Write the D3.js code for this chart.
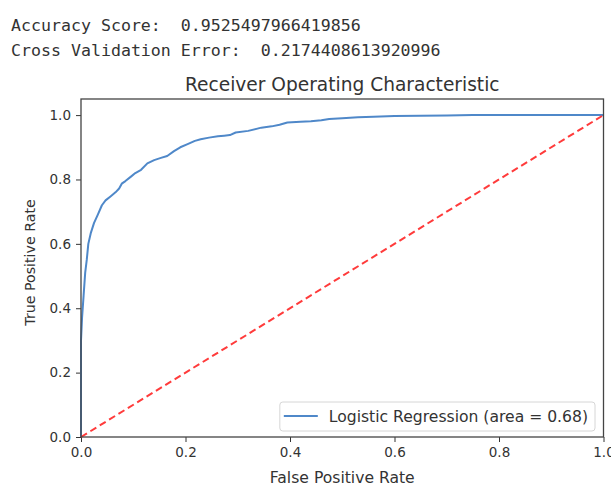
<!DOCTYPE html>
<html>
<head>
<meta charset="utf-8">
<script src="https://cdn.jsdelivr.net/npm/d3@7"></script>
<style>
  body { margin: 0; background: #fff; }
  svg text { font-family: 'DejaVu Sans', sans-serif; fill: #333; }
  .mono { font-family: 'DejaVu Sans Mono', monospace !important; font-size: 16.6px; white-space: pre; }
  .tick text { font-size: 13.5px; }
  .domain { display: none; }
</style>
</head>
<body>
<svg id="chart"></svg>
<script>
// printed output above the plot
const outputLines = [
  'Accuracy Score:  0.9525497966419856',
  'Cross Validation Error:  0.2174408613920996',
];

// roc curve
const fpr = [0, 0, 0.002, 0.005, 0.008, 0.011, 0.014, 0.019, 0.025, 0.032,
  0.04, 0.047, 0.057, 0.066, 0.073, 0.078, 0.085, 0.095, 0.104, 0.115,
  0.127, 0.14, 0.153, 0.165, 0.178, 0.19, 0.204, 0.218, 0.229, 0.245,
  0.262, 0.274, 0.285, 0.296, 0.32, 0.345, 0.365, 0.38, 0.395, 0.42,
  0.44, 0.46, 0.475, 0.5, 0.53, 0.56, 0.6, 0.65, 0.7, 0.75, 0.85, 1.0];
const tpr = [0, 0.3, 0.37, 0.44, 0.51, 0.55, 0.6, 0.635, 0.665, 0.69,
  0.72, 0.735, 0.748, 0.76, 0.772, 0.787, 0.795, 0.808, 0.82, 0.83,
  0.85, 0.86, 0.867, 0.873, 0.888, 0.9, 0.91, 0.92, 0.925, 0.93,
  0.934, 0.936, 0.938, 0.946, 0.951, 0.961, 0.965, 0.97, 0.977, 0.979,
  0.981, 0.984, 0.988, 0.99, 0.993, 0.995, 0.997, 0.998, 0.999, 1.0, 1.0, 1.0];

// chance diagonal
const diagX = [0, 1];
const diagY = [0, 1];

const xTicks = [0, 0.2, 0.4, 0.6, 0.8, 1.0];
const yTicks = [0, 0.2, 0.4, 0.6, 0.8, 1.0];

const legendLabel = 'Logistic Regression (area = 0.68)';

const config = {
  width: 611,
  height: 487,
  plot: { left: 81, right: 603.5, top: 99, bottom: 437 },
};

const svg = d3.select('#chart').attr('width', config.width).attr('height', config.height);

// text output lines
svg.selectAll('.mono')
  .data(outputLines)
  .enter()
  .append('text')
  .attr('class', 'mono')
  .attr('xml:space', 'preserve')
  .attr('x', 11)
  .attr('y', (d, i) => 31 + i * 25)
  .text(d => d);

const x = d3.scaleLinear().domain([0, 1]).range([config.plot.left, config.plot.right]);
const y = d3.scaleLinear().domain([0, 1.05]).range([config.plot.bottom, config.plot.top]);

// axes
svg.append('g')
  .attr('transform', `translate(0,${config.plot.bottom})`)
  .call(d3.axisBottom(x).tickValues(xTicks).tickFormat(d3.format('.1f')).tickSize(5).tickPadding(5))
  .call(g => g.selectAll('.tick line').attr('stroke', '#333'));

svg.append('g')
  .attr('transform', `translate(${config.plot.left},0)`)
  .call(d3.axisLeft(y).tickValues(yTicks).tickFormat(d3.format('.1f')).tickSize(5).tickPadding(5))
  .call(g => g.selectAll('.tick line').attr('stroke', '#333'));

// lines
const line = d3.line().x(d => x(d[0])).y(d => y(d[1]));

svg.append('path')
  .datum(fpr.map((f, i) => [f, tpr[i]]))
  .attr('d', line)
  .attr('fill', 'none')
  .attr('stroke', '#4f88c9')
  .attr('stroke-width', 2)
  .attr('stroke-linejoin', 'round');

svg.append('path')
  .datum(diagX.map((f, i) => [f, diagY[i]]))
  .attr('d', line)
  .attr('fill', 'none')
  .attr('stroke', '#ff3b3b')
  .attr('stroke-width', 2)
  .attr('stroke-dasharray', '7,4');

// frame
svg.append('rect')
  .attr('x', config.plot.left)
  .attr('y', config.plot.top)
  .attr('width', config.plot.right - config.plot.left)
  .attr('height', config.plot.bottom - config.plot.top)
  .attr('fill', 'none')
  .attr('stroke', '#444')
  .attr('stroke-width', 1.3);

// titles
svg.append('text')
  .attr('x', (config.plot.left + config.plot.right) / 2)
  .attr('y', 90.5)
  .attr('text-anchor', 'middle')
  .style('font-size', '18.6px')
  .text('Receiver Operating Characteristic');

svg.append('text')
  .attr('x', (config.plot.left + config.plot.right) / 2)
  .attr('y', 483)
  .attr('text-anchor', 'middle')
  .style('font-size', '15.6px')
  .text('False Positive Rate');

svg.append('text')
  .attr('transform', 'translate(34.5,262.5) rotate(-90)')
  .attr('text-anchor', 'middle')
  .style('font-size', '14.2px')
  .text('True Positive Rate');

// legend
const legend = svg.append('g');
const legendBox = legend.append('rect')
  .attr('rx', 3)
  .attr('fill', 'rgba(255,255,255,0.8)')
  .attr('stroke', '#d6d6d6');
legend.append('line')
  .attr('x1', 4).attr('x2', 38).attr('y1', 0).attr('y2', 0)
  .attr('stroke', '#4f88c9').attr('stroke-width', 2);
const legendText = legend.append('text')
  .attr('x', 49)
  .attr('y', 5.5)
  .style('font-size', '15.6px')
  .text(legendLabel);

const lw = 49 + legendText.node().getComputedTextLength() + 7;
legendBox.attr('x', 0).attr('y', -14).attr('width', lw).attr('height', 29);
legend.attr('transform', `translate(${config.plot.right - 8.5 - lw},${config.plot.bottom - 6 - 15})`);
</script>
</body>
</html>
